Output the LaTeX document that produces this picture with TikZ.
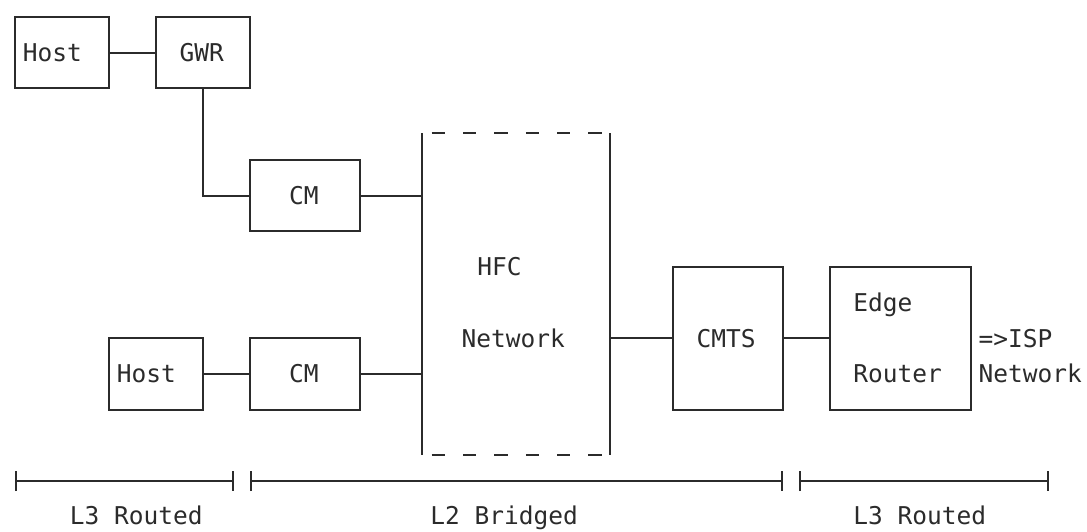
\documentclass[tikz,border=0pt]{standalone}
\usepackage{fontspec}
\setmonofont{DejaVu Sans Mono}
\usetikzlibrary{arrows.meta}
\definecolor{ink}{HTML}{2B2B2B}
\begin{document}
\begin{tikzpicture}[x=15.67pt,y=-35.7pt,
  every node/.style={font=\ttfamily\fontsize{24.5}{30}\selectfont, text=ink, inner sep=0pt, outer sep=0pt},
  box/.style={draw=ink, line width=2pt, minimum height=71.4pt},
  lbl/.style={anchor=base west},
  link/.style={draw=ink, line width=2pt},
  hfcedge/.style={draw=ink, line width=2pt, dash pattern=on 13.3pt off 18.04pt},
  scalebar/.style={draw=ink, line width=2pt, {Bar[width=20pt,line width=2pt]}-{Bar[width=20pt,line width=2pt]}}]
\useasboundingbox (-0.957,-0.476) rectangle (68.41,14.398);

% boxes
\node[box, minimum width=94.02pt] (host1) at (3,1) {};
\node[box, minimum width=94.02pt] (gwr) at (12,1) {};
\node[box, minimum width=109.69pt] (cm1) at (18.5,5) {};
\node[box, minimum width=94.02pt] (host2) at (9,10) {};
\node[box, minimum width=109.69pt] (cm2) at (18.5,10) {};
\node[box, minimum width=109.69pt, minimum height=142.8pt] (cmts) at (45.5,9) {};
\node[box, minimum width=141.03pt, minimum height=142.8pt] (edge) at (56.5,9) {};
\node[minimum width=188.04pt, minimum height=322pt] (hfc) at (32,7.76) {};

% HFC outline
\draw[link] (hfc.north west) -- (hfc.south west);
\draw[link] (hfc.north east) -- (hfc.south east);
\draw[hfcedge] ([xshift=9.3pt]hfc.north west) -- (hfc.north east);
\draw[hfcedge] ([xshift=9.3pt]hfc.south west) -- (hfc.south east);

% labels
\node[lbl] (host1-t) at (0.5,1.25) {Host};
\node[lbl] (gwr-t) at (10.5,1.25) {GWR};
\node[lbl] (cm1-t) at (17.5,5.25) {CM};
\node[lbl] (hfc-t1) at (29.5,7.25) {HFC};
\node[lbl] (hfc-t2) at (28.5,9.25) {Network};
\node[lbl] (cmts-t) at (43.5,9.25) {CMTS};
\node[lbl] (edge-t1) at (53.5,8.25) {Edge};
\node[lbl] (edge-t2) at (53.5,10.25) {Router};
\node[lbl] (isp1) at (61.5,9.25) {=>ISP};
\node[lbl] (isp2) at (61.5,10.25) {Network};
\node[lbl] (host2-t) at (6.5,10.25) {Host};
\node[lbl] (cm2-t) at (17.5,10.25) {CM};

% connectors
\draw[link] (host1.east) -- (gwr.west);
\draw[link] (gwr.south) |- (cm1.west);
\draw[link] (cm1.east) -- (cm1.east -| hfc.west);
\draw[link] (host2.east) -- (cm2.west);
\draw[link] (cm2.east) -- (cm2.east -| hfc.west);
\draw[link] (hfc.east |- cmts.west) -- (cmts.west);
\draw[link] (cmts.east) -- (edge.west);

% scale
\coordinate (s0) at (0,13);
\coordinate (s1) at (14,13);
\coordinate (s2) at (15,13);
\coordinate (s3) at (49,13);
\coordinate (s4) at (50,13);
\coordinate (s5) at (66,13);
\draw[scalebar] (s0) -- (s1);
\draw[scalebar] (s2) -- (s3);
\draw[scalebar] (s4) -- (s5);
\node[lbl] (l3a) at (3.5,14.22) {L3 Routed};
\node[lbl] (l2) at (26.5,14.22) {L2 Bridged};
\node[lbl] (l3b) at (53.5,14.22) {L3 Routed};
\end{tikzpicture}
\end{document}
